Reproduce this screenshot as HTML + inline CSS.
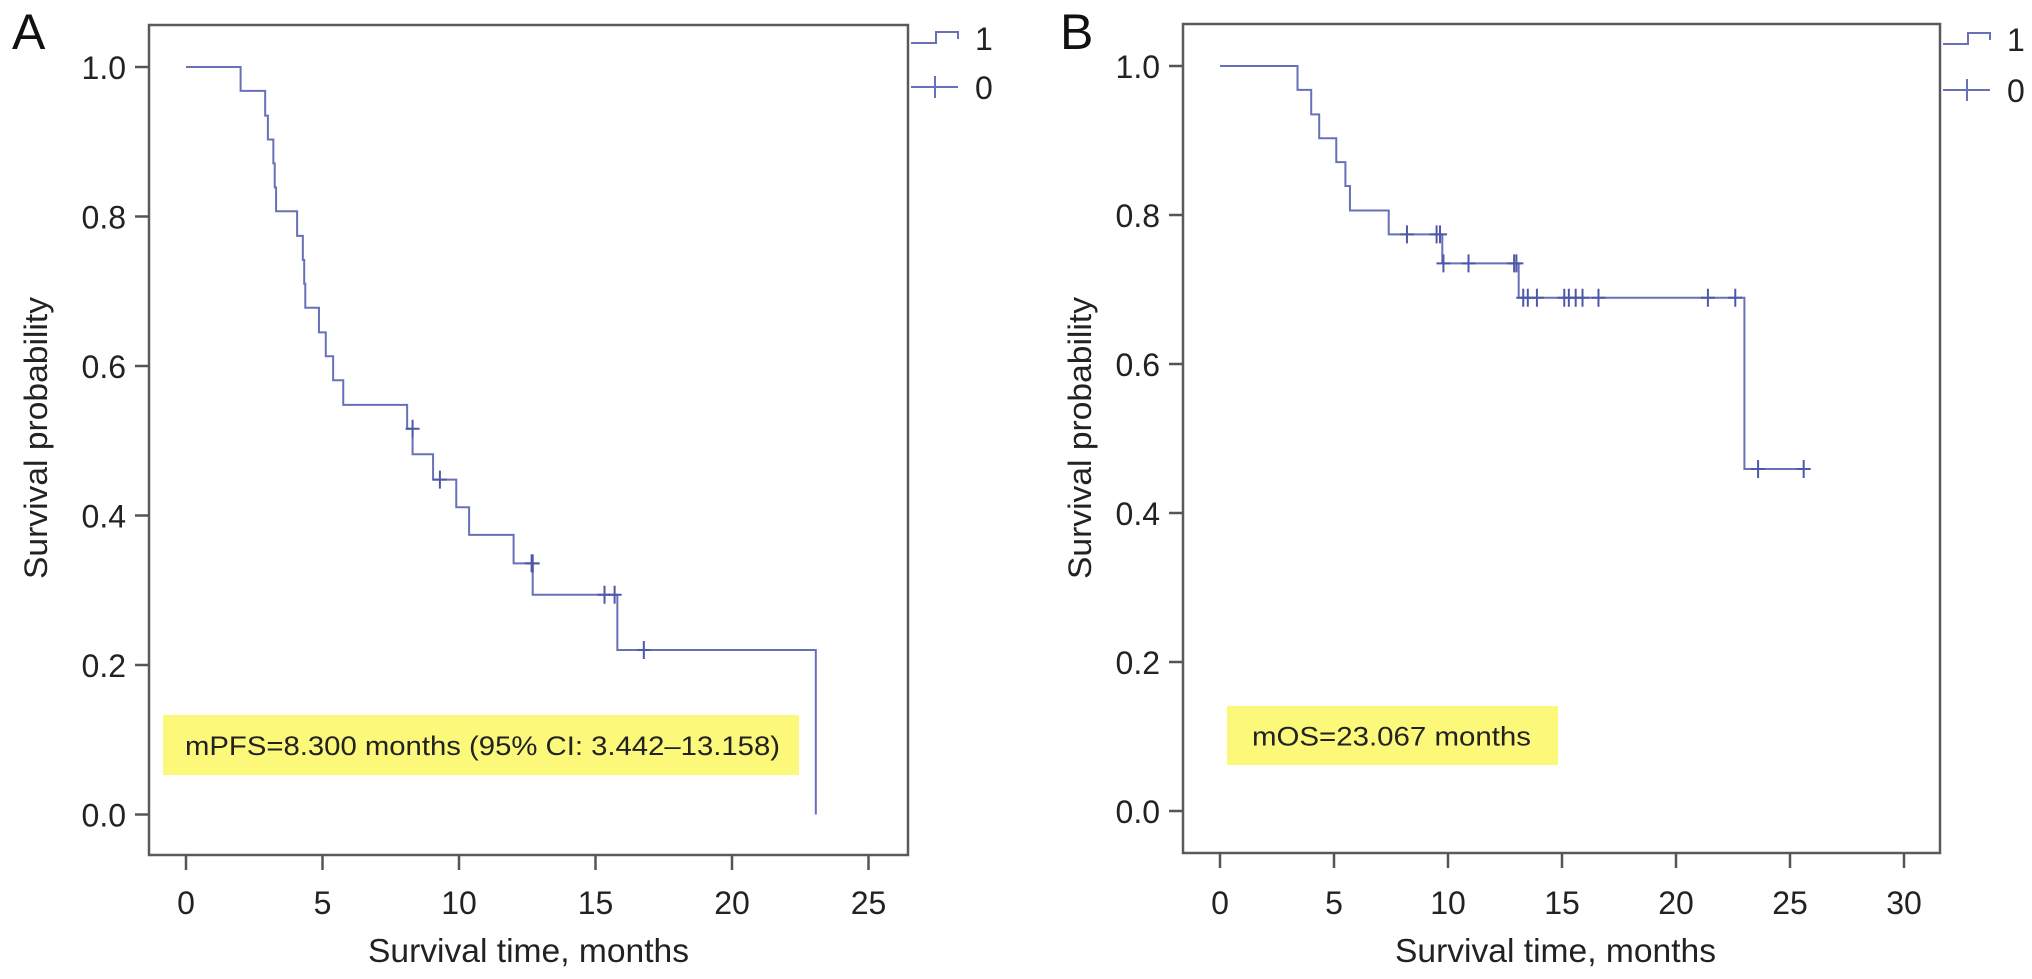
<!DOCTYPE html>
<html><head><meta charset="utf-8">
<style>
html,body{margin:0;padding:0;background:#fff;}
svg{display:block;font-family:"Liberation Sans",Arial,sans-serif;}
</style></head>
<body>
<svg id="fig" width="2032" height="979" viewBox="0 0 2032 979" xmlns="http://www.w3.org/2000/svg"></svg>
<script>
// Panel A (PFS) data
const aStepTimes = [0, 2.0, 2.9, 3.0, 3.2, 3.25, 3.3, 4.07, 4.28, 4.33, 4.37, 4.87, 5.12, 5.39, 5.76, 8.1, 8.3, 9.05, 9.9, 10.37, 12.0, 12.7, 15.8, 23.07];
const aStepSurv  = [1.0, 0.968, 0.935, 0.903, 0.871, 0.839, 0.807, 0.774, 0.742, 0.710, 0.678, 0.645, 0.613, 0.581, 0.548, 0.516, 0.482, 0.448, 0.411, 0.374, 0.336, 0.294, 0.220, 0.0];
const aCensor    = [8.3, 9.3, 12.66, 12.7, 15.33, 15.7, 16.77];
const aEnd = 23.07;
const aXTicks = [0, 5, 10, 15, 20, 25];
// Panel B (OS) data
const bStepTimes = [0, 3.4, 4.0, 4.35, 5.1, 5.5, 5.7, 7.4, 9.75, 13.1, 23.0];
const bStepSurv  = [1.0, 0.968, 0.935, 0.903, 0.871, 0.839, 0.806, 0.774, 0.735, 0.689, 0.459];
const bCensor    = [8.2, 9.5, 9.65, 9.8, 10.9, 12.9, 13.0, 13.3, 13.5, 13.9, 15.1, 15.3, 15.6, 15.9, 16.6, 21.4, 22.6, 23.6, 25.6];
const bEnd = 25.6;
const bXTicks = [0, 5, 10, 15, 20, 25, 30];
const yTicks = [0.0, 0.2, 0.4, 0.6, 0.8, 1.0];
const yTickLabels = ["0.0", "0.2", "0.4", "0.6", "0.8", "1.0"];

const NS = "http://www.w3.org/2000/svg";
const svg = document.getElementById("fig");
const LINE = "#6870b8";
function mk(tag, attrs, parent, text) {
  const e = document.createElementNS(NS, tag);
  for (const k in attrs) e.setAttribute(k, attrs[k]);
  if (text !== undefined) e.textContent = text;
  (parent || svg).appendChild(e);
  return e;
}

function panel(cfg) {
  const g = mk("g", {});
  
  
  const xs = t => cfg.x0 + t * cfg.xPer;
  const ys = s => cfg.y0 - s * cfg.yPer;
  const fr = mk("rect", {x: cfg.left, y: cfg.top, width: cfg.right - cfg.left, height: cfg.bottom - cfg.top, fill: "none", stroke: "#5a5a5a", "stroke-width": 2.5}, g);
  
  
  yTicks.forEach((v, i) => {
    const y = ys(v);
    const t = mk("line", {x1: cfg.left - 14, x2: cfg.left, y1: y, y2: y, stroke: "#555", "stroke-width": 2.5}, g);
    
    
    const l = mk("text", {x: cfg.left - 23, y: y + 12, "text-anchor": "end", "font-size": 32, fill: "#222"}, g, yTickLabels[i]);
    
    
  });
  cfg.xTicks.forEach(v => {
    const x = xs(v);
    const t = mk("line", {x1: x, x2: x, y1: cfg.bottom, y2: cfg.bottom + 15, stroke: "#555", "stroke-width": 2.5}, g);
    
    
    const l = mk("text", {x: x, y: 914, "text-anchor": "middle", "font-size": 32, fill: "#222"}, g, String(v));
    
    
  });
  const xt = mk("text", {x: cfg.xTitleX - 160, y: 962, "font-size": 33, fill: "#222", textLength: 321, lengthAdjust: "spacingAndGlyphs"}, g, "Survival time, months");
  
  
  const yt = mk("text", {x: -141, y: 0, "font-size": 32, fill: "#222", textLength: 282, lengthAdjust: "spacingAndGlyphs", transform: `translate(${cfg.yTitleX},438) rotate(-90)`}, g, "Survival probability");
  
  
  let d = `M${xs(cfg.times[0])},${ys(cfg.surv[0])}`;
  for (let i = 1; i < cfg.times.length; i++) {
    d += ` H${xs(cfg.times[i])} V${ys(cfg.surv[i])}`;
  }
  d += ` H${xs(cfg.end)}`;
  const p = mk("path", {d: d, fill: "none", stroke: LINE, "stroke-width": 2}, g);
  
  
  cfg.censor.forEach(t => {
    let s = cfg.surv[0];
    for (let i = 0; i < cfg.times.length; i++) if (cfg.times[i] < t) s = cfg.surv[i];
    const x = xs(t), y = ys(s);
    const c = mk("path", {d: `M${x-7},${y} H${x+7} M${x},${y-9} V${y+9}`, stroke: "#4f58a8", "stroke-width": 2, fill: "none"}, g);
    
    
  });
  const ab = mk("rect", {x: cfg.boxX, y: cfg.boxY, width: cfg.boxW, height: cfg.boxH, fill: "#fbf87a"}, g);
  
  
  const at = mk("text", {x: cfg.txtX, y: cfg.boxY + cfg.boxH / 2 + 10, "font-size": 27, fill: "#222", textLength: cfg.txtW, lengthAdjust: "spacingAndGlyphs"}, g, cfg.note);
  
  
  const lx = cfg.right + 3;
  const l1 = mk("path", {d: `M${lx},${cfg.legY1 + 5} H${lx + 25} V${cfg.legY1 - 6} H${lx + 47} V${cfg.legY1 + 1}`, fill: "none", stroke: LINE, "stroke-width": 2}, g);
  
  
  const lt1 = mk("text", {x: lx + 64, y: cfg.legY1 + 12, "font-size": 32, fill: "#222"}, g, "1");
  
  
  const l0 = mk("path", {d: `M${lx},${cfg.legY0} H${lx + 47} M${lx + 24},${cfg.legY0 - 11} V${cfg.legY0 + 11}`, fill: "none", stroke: LINE, "stroke-width": 2}, g);
  
  
  const lt0 = mk("text", {x: lx + 64, y: cfg.legY0 + 12, "font-size": 32, fill: "#222"}, g, "0");
  
  
  const pl = mk("text", {x: cfg.letterX, y: 49, "font-size": 50, fill: "#111"}, g, cfg.letter);
  
  
}

panel({name: "panel-a-pfs", left: 149, right: 908, top: 25, bottom: 855,
  x0: 186, xPer: 27.3, y0: 814.5, yPer: 747.5, xTicks: aXTicks,
  times: aStepTimes, surv: aStepSurv, censor: aCensor, end: aEnd,
  xTitleX: 528, yTitleX: 47,
  boxX: 163, boxY: 715, boxW: 636, boxH: 60, txtX: 185, txtW: 595,
  note: "mPFS=8.300 months (95% CI: 3.442\u201313.158)",
  legY1: 38, legY0: 87, letter: "A", letterX: 12});

panel({name: "panel-b-os", left: 1183, right: 1940, top: 24, bottom: 853,
  x0: 1220, xPer: 22.8, y0: 811, yPer: 745, xTicks: bXTicks,
  times: bStepTimes, surv: bStepSurv, censor: bCensor, end: bEnd,
  xTitleX: 1555, yTitleX: 1091,
  boxX: 1227, boxY: 706, boxW: 331, boxH: 59, txtX: 1252, txtW: 279,
  note: "mOS=23.067 months",
  legY1: 39, legY0: 90, letter: "B", letterX: 1060});
</script>
</body></html>
